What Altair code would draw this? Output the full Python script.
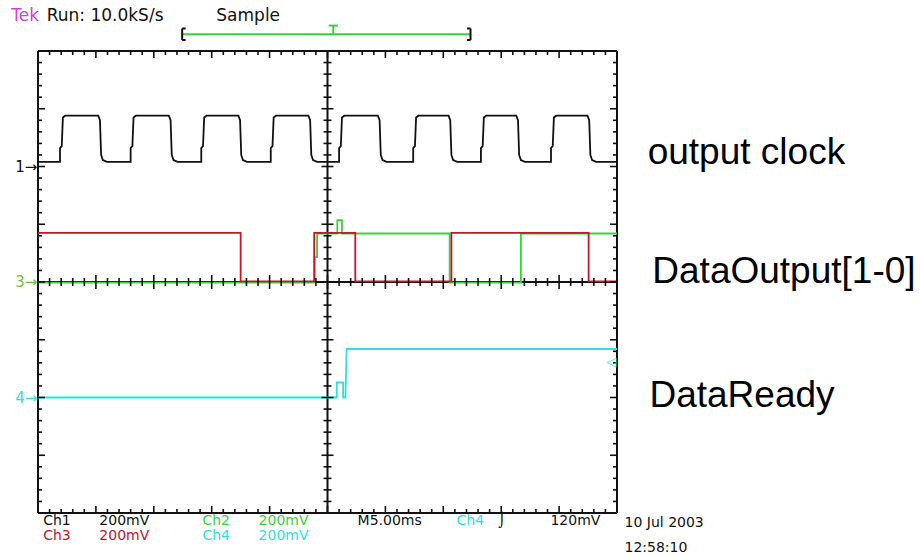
import altair as alt
import pandas as pd

# ---------------- data (units: divisions) ----------------
# Ch1 - output clock (black)
CLOCK_RISE = [0.41, 1.63, 2.85, 4.05, 5.23, 6.51, 7.68, 8.89]
CLOCK_FALL = [1.06, 2.28, 3.48, 4.69, 5.89, 7.11, 8.28, 9.51]
CLOCK_LOW = 6.08
CLOCK_HIGH = 6.88

# Ch3 - DataOutput bit (red)
CH3_T = [0.0, 3.50, 3.50, 4.77, 4.77, 5.48, 5.48, 7.14, 7.14, 9.51, 9.51, 10.0]
CH3_V = [4.85, 4.85, 4.01, 4.01, 4.85, 4.85, 4.01, 4.01, 4.85, 4.85, 4.01, 4.01]

# Ch2 - DataOutput bit (green)
CH2_T = [0.0, 4.78, 4.78, 4.82, 4.82, 5.17, 5.17, 5.25, 5.25, 7.11, 7.11, 8.34, 8.34, 10.0]
CH2_V = [3.99, 3.99, 4.43, 4.43, 4.84, 4.84, 5.07, 5.07, 4.84, 4.84, 3.99, 3.99, 4.84, 4.84]

# Ch4 - DataReady (cyan)
CH4_T = [0.0, 5.16, 5.16, 5.27, 5.27, 5.31, 5.33, 10.0]
CH4_V = [2.0, 2.0, 2.26, 2.26, 2.0, 2.0, 2.84, 2.84]

COL_CH1 = "#111111"
COL_CH2 = "#3ad23a"
COL_CH3 = "#c8142a"
COL_CH4 = "#2fe0e0"
COL_TEK = "#cc44cc"

# ---------------- build tables ----------------
def clock_points():
    amp = CLOCK_HIGH - CLOCK_LOW
    pts = [(0.0, CLOCK_LOW)]
    events = sorted([(t, 1) for t in CLOCK_RISE] + [(t, 0) for t in CLOCK_FALL])
    for t, up in events:
        if up:
            pts += [(t - 0.03, CLOCK_LOW), (t - 0.03, CLOCK_LOW + 0.30 * amp),
                    (t, CLOCK_LOW + 0.34 * amp), (t + 0.02, CLOCK_HIGH - 0.03),
                    (t + 0.06, CLOCK_HIGH)]
        else:
            pts += [(t - 0.02, CLOCK_HIGH), (t + 0.01, CLOCK_HIGH - 0.10 * amp),
                    (t + 0.03, CLOCK_LOW + 0.15 * amp), (t + 0.06, CLOCK_LOW + 0.04 * amp),
                    (t + 0.13, CLOCK_LOW)]
    pts.append((10.0, CLOCK_LOW))
    return pts


def trace_df(ts, vs):
    return pd.DataFrame({"x": ts, "y": vs, "i": list(range(len(ts)))})


clk = clock_points()
df_ch1 = trace_df([p[0] for p in clk], [p[1] for p in clk])
df_ch2 = trace_df(CH2_T, CH2_V)
df_ch3 = trace_df(CH3_T, CH3_V)
df_ch4 = trace_df(CH4_T, CH4_V)

PX = 1 / 57.9   # one pixel in x divisions
PY = 1 / 57.75  # one pixel in y divisions

# graticule lines (frame + centre cross)
grat = pd.DataFrame([
    {"x": 0, "x2": 10, "y": 0, "y2": 0},
    {"x": 0, "x2": 10, "y": 8, "y2": 8},
    {"x": 0, "x2": 0, "y": 0, "y2": 8},
    {"x": 10, "x2": 10, "y": 0, "y2": 8},
    {"x": 5, "x2": 5, "y": 0, "y2": 8},
    {"x": 0, "x2": 10, "y": 4, "y2": 4},
])

tick_rows = []
for k in range(51):
    xv = k * 0.2
    ln = 7 if k % 5 == 0 else 4
    tick_rows.append({"x": xv, "x2": xv, "y": 8, "y2": 8 - ln * PY})
    tick_rows.append({"x": xv, "x2": xv, "y": 0, "y2": ln * PY})
    lc = 7 if k % 5 == 0 else 4
    tick_rows.append({"x": xv, "x2": xv, "y": 4 - lc * PY, "y2": 4 + lc * PY})
for k in range(41):
    yv = k * 0.2
    ln = 7 if k % 5 == 0 else 4
    tick_rows.append({"x": 0, "x2": ln * PX, "y": yv, "y2": yv})
    tick_rows.append({"x": 10, "x2": 10 - ln * PX, "y": yv, "y2": yv})
    lc = 6 if k % 5 == 0 else 4
    tick_rows.append({"x": 5 - lc * PX, "x2": 5 + lc * PX, "y": yv, "y2": yv})
ticks = pd.DataFrame(tick_rows)

# record-length bracket at the top
BRACKET_L, BRACKET_R, BRACKET_Y, TRIG_X = 2.49, 7.47, 8.29, 5.10
bracket_green = pd.DataFrame([
    {"x": BRACKET_L, "x2": BRACKET_R, "y": BRACKET_Y, "y2": BRACKET_Y},
    {"x": TRIG_X, "x2": TRIG_X, "y": BRACKET_Y, "y2": BRACKET_Y + 0.15},
    {"x": TRIG_X - 0.08, "x2": TRIG_X + 0.08, "y": BRACKET_Y + 0.15, "y2": BRACKET_Y + 0.15},
])
bracket_black = pd.DataFrame([
    {"x": BRACKET_L, "x2": BRACKET_L, "y": BRACKET_Y - 0.1, "y2": BRACKET_Y + 0.1},
    {"x": BRACKET_L, "x2": BRACKET_L + 0.06, "y": BRACKET_Y - 0.1, "y2": BRACKET_Y - 0.1},
    {"x": BRACKET_L, "x2": BRACKET_L + 0.06, "y": BRACKET_Y + 0.1, "y2": BRACKET_Y + 0.1},
    {"x": BRACKET_R, "x2": BRACKET_R, "y": BRACKET_Y - 0.1, "y2": BRACKET_Y + 0.1},
    {"x": BRACKET_R - 0.06, "x2": BRACKET_R, "y": BRACKET_Y - 0.1, "y2": BRACKET_Y - 0.1},
    {"x": BRACKET_R - 0.06, "x2": BRACKET_R, "y": BRACKET_Y + 0.1, "y2": BRACKET_Y + 0.1},
])

# scope status texts
top_text = pd.DataFrame([
    {"x": -0.46, "y": 8.60, "label": "Tek", "c": COL_TEK},
    {"x": 0.15, "y": 8.60, "label": "Run: 10.0kS/s", "c": "#111111"},
    {"x": 3.08, "y": 8.60, "label": "Sample", "c": "#111111"},
])
ROW1, ROW2 = -0.13, -0.40
bottom_text = pd.DataFrame([
    {"x": 0.09, "y": ROW1, "label": "Ch1", "c": "#111111"},
    {"x": 1.06, "y": ROW1, "label": "200mV", "c": "#111111"},
    {"x": 2.84, "y": ROW1, "label": "Ch2", "c": COL_CH2},
    {"x": 3.81, "y": ROW1, "label": "200mV", "c": COL_CH2},
    {"x": 5.52, "y": ROW1, "label": "M5.00ms", "c": "#111111"},
    {"x": 7.23, "y": ROW1, "label": "Ch4", "c": COL_CH4},
    {"x": 7.95, "y": ROW1, "label": "\u2321", "c": "#111111"},
    {"x": 8.85, "y": ROW1, "label": "120mV", "c": "#111111"},
    {"x": 0.09, "y": ROW2, "label": "Ch3", "c": COL_CH3},
    {"x": 1.06, "y": ROW2, "label": "200mV", "c": COL_CH3},
    {"x": 2.84, "y": ROW2, "label": "Ch4", "c": COL_CH4},
    {"x": 3.81, "y": ROW2, "label": "200mV", "c": COL_CH4},
    {"x": 10.13, "y": -0.17, "label": "10 Jul 2003", "c": "#111111"},
    {"x": 10.13, "y": -0.60, "label": "12:58:10", "c": "#111111"},
])

# channel ground markers on the left edge
markers = pd.DataFrame([
    {"x": -0.01, "y": 6.0, "label": "1\u2192", "c": "#111111"},
    {"x": -0.01, "y": 4.0, "label": "3\u2192", "c": "#6cc23a"},
    {"x": -0.01, "y": 2.0, "label": "4\u2192", "c": COL_CH4},
])
trig_marker = pd.DataFrame([{"x": 9.99, "y": 2.61, "label": "\u25c1", "c": COL_CH4}])

# signal names on the right
names = pd.DataFrame([
    {"x": 10.53, "y": 6.05, "label": "output clock"},
    {"x": 10.61, "y": 3.98, "label": "DataOutput[1-0]"},
    {"x": 10.56, "y": 1.83, "label": "DataReady"},
])

# ---------------- chart ----------------
XS = alt.Scale(domain=[0, 10], nice=False, zero=False)
YS = alt.Scale(domain=[0, 8], nice=False, zero=False)


def X(f="x"):
    return alt.X(f"{f}:Q", scale=XS, axis=None)


def Y(f="y"):
    return alt.Y(f"{f}:Q", scale=YS, axis=None)


def rules(df, color, width):
    return alt.Chart(df).mark_rule(color=color, strokeWidth=width).encode(
        x=X(), x2="x2:Q", y=Y(), y2="y2:Q")


def line(df, color, width=1.8):
    return alt.Chart(df).mark_line(color=color, strokeWidth=width, interpolate="linear").encode(
        x=X(), y=Y(), order="i:Q")


def texts(df, **kw):
    return alt.Chart(df).mark_text(**kw).encode(
        x=X(), y=Y(), text="label:N", color=alt.Color("c:N", scale=None))


layers = [
    rules(grat, "#111111", 2),
    line(df_ch2, COL_CH2),
    line(df_ch3, COL_CH3),
    line(df_ch1, COL_CH1),
    line(df_ch4, COL_CH4),
    rules(ticks, "#111111", 1.6),
    rules(bracket_green, COL_CH2, 2),
    rules(bracket_black, "#111111", 2),
    texts(top_text, align="left", baseline="middle", font="DejaVu Sans", fontSize=17),
    texts(bottom_text, align="left", baseline="middle", font="DejaVu Sans", fontSize=14),
    texts(markers, align="right", baseline="middle", font="DejaVu Sans", fontSize=15),
    texts(trig_marker, align="right", baseline="middle", font="DejaVu Sans", fontSize=13),
    alt.Chart(names).mark_text(align="left", baseline="alphabetic", font="Liberation Sans",
                               fontSize=37, color="#000000").encode(x=X(), y=Y(), text="label:N"),
]

chart = alt.layer(*layers).properties(
    width=579,
    height=462,
    padding={"left": 38, "top": 51, "right": 303, "bottom": 43},
    autosize=alt.AutoSizeParams(type="none"),
    background="white",
).configure_view(stroke=None)

chart.save("out.html", embed_options={"renderer": "svg", "actions": False})
